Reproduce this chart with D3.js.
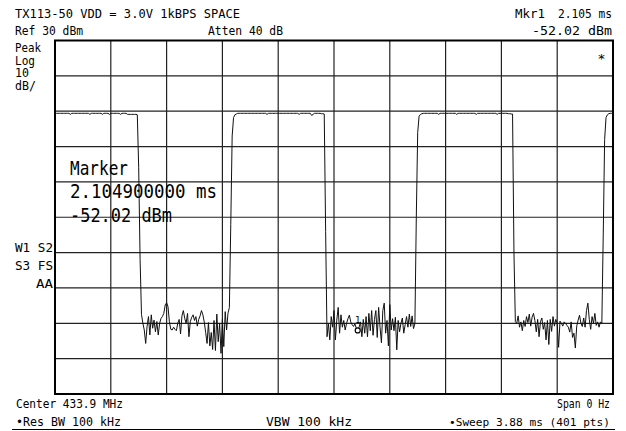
<!DOCTYPE html>
<html>
<head>
<meta charset="utf-8">
<script src="https://cdn.jsdelivr.net/npm/d3@7"></script>
<style>
  body { margin: 0; background: #fff; }
  svg { display: block; }
  text { font-family: "DejaVu Sans Mono", monospace; fill: #000; }
</style>
</head>
<body>
<div id="chart"></div>
<script>
// analyzer settings
const sweepMs = 3.88;
const refDbm = 30;
const dbPerDiv = 10;
const nDivs = 10;
const nPts = 401;
const markerIndex = 217;

// trace pieces, dBm (401 points in total)
const high1 = [
  9.4, 9.4, 9.4, 9.4, 9.4, 9.4, 9.4, 9.4, 9.4, 9.4,
  9.4, 9.1, 9.4, 9.4, 9.4, 9.4, 9.4, 9.4, 9.4, 9.4,
  9.4, 9.4, 9.4, 9.4, 9.4, 9.1, 9.4, 9.4, 9.4, 9.4,
  9.4, 9.4, 9.4, 9.4, 9.1, 9.4, 9.4, 9.4, 9.4, 9.1,
  9.4, 9.4, 9.4, 9.4, 9.4, 9.4, 9.4, 9.1, 9.4, 9.4,
  9.4, 9.4, 9.1, 9.1, 9.1, 9.1, 9.1, 9.1, 9.1, 9.0
];
const fall1 = [-6, -32];
const noise1 = [
  -47.5, -50, -51.9, -55.7, -50.9, -48.1, -53.3, -47.6, -51.4, -49.1,
  -52.4, -49.5, -53.3, -50, -48.6, -48.1, -47.2, -44.8, -44.2, -45.3,
  -49.5, -51.7, -51.9, -51.1, -51.7, -52.1, -50, -48.9, -53, -47.9,
  -46.4, -48.6, -50, -47.2, -53.8, -49.5, -48.3, -47.6, -49.2, -48.1,
  -50.8, -48.9, -47.9, -46.4, -47.6, -49.6, -52.6, -55.7, -49.8, -56.4,
  -52.6, -57.4, -49.2, -57.7, -47.4, -55.2, -50, -58.5, -48.9, -56.6,
  -46.7, -51.9, -47.2, -45.5
];
const rise1 = [-22, 3, 8.2];
const high2 = [
  9.0, 9.2, 9.4, 9.4, 9.4, 9.4, 9.4, 9.4, 9.4, 9.4,
  9.4, 9.4, 9.4, 9.4, 9.4, 9.4, 9.4, 9.4, 9.4, 9.4,
  9.4, 9.4, 9.4, 9.1, 9.4, 9.4, 9.4, 9.4, 9.4, 9.4,
  9.4, 9.4, 9.4, 9.4, 9.4, 9.4, 9.4, 9.4, 9.4, 9.4,
  9.4, 9.4, 9.4, 9.4, 9.4, 9.4, 9.1, 9.4, 9.4, 9.4,
  9.4, 9.4, 9.4, 9.4, 9.4, 8.8, 9.1, 9.4, 9.4, 9.4,
  9.4, 9.4, 9.3, 9.3, 9.2
];
const fall2 = [-24];
const noise2 = [
  -53.8, -50, -54.7, -48.1, -51.1, -46.4, -54.7, -49.1, -45.5, -52.8,
  -47.6, -51.1, -49.2, -51.9, -50, -48.7, -47.7, -49.6, -50.4, -50.9,
  -50.2, -51.4, -52.02, -51.1, -49.6, -53.8, -48.9, -52.8, -48.1, -53.8,
  -47.2, -52.1, -46.4, -53.4, -48.9, -46.4, -54, -45.5, -51.1, -55.5,
  -46.4, -44.3, -52.8, -49.2, -56.4, -44.7, -51.9, -48.7, -52.1, -48.3,
  -57.5, -49.2, -52.4, -50, -48.5, -52.8, -50.4, -48.1, -51.1, -47.4,
  -50.9, -47.9, -51.5, -50
];
const rise2 = [-20, 4];
const high3 = [
  8.6, 9.1, 9.3, 9.4, 9.4, 9.4, 9.4, 9.4, 9.4, 9.4,
  9.4, 9.4, 9.4, 9.4, 9.1, 9.4, 9.4, 9.4, 9.4, 9.4,
  9.4, 9.4, 9.4, 9.4, 9.4, 9.4, 9.4, 9.1, 9.4, 9.4,
  9.4, 9.4, 9.4, 9.4, 9.4, 9.4, 9.4, 9.4, 9.4, 9.4,
  9.4, 9.1, 9.4, 9.4, 9.4, 9.4, 9.4, 9.4, 9.4, 9.4,
  9.4, 9.4, 9.4, 9.4, 9.4, 9.4, 9.1, 9.4, 9.4, 9.4,
  9.4, 9.4, 9.4, 9.4, 9.3, 9.3, 9.2, 9.2
];
const fall3 = [-30];
const noise3 = [
  -49.5, -50, -47.9, -51.1, -49.6, -52.1, -49.2, -50.9, -48.1, -49.8,
  -47.4, -50.8, -48.3, -47.2, -49.2, -52.4, -48.9, -53.8, -49.6, -48.5,
  -51.7, -49.8, -54.7, -49.2, -56, -48.9, -52.3, -48.1, -50.8, -48.9,
  -50, -56.8, -49.4, -50, -50.8, -49.6, -50, -50.6, -51.1, -52.5,
  -49.6, -54, -52.8, -57, -50.8, -49.1, -47.7, -50, -50.9, -48.5,
  -51.1, -46.4, -44.3, -48.9, -51.7, -48.1, -50, -47.2, -50.6, -49.6,
  -51.1, -49.6, -50
];
const rise3 = [-25, 2, 8.2];
const high4 = [9.0, 9.3, 9.4, 9.4, 9.4];

const traceDbm = [].concat(high1, fall1, noise1, rise1, high2, fall2, noise2,
  rise2, high3, fall3, noise3, rise3, high4);

// screen annotations
const headerLeft = ["TX113-50 VDD = 3.0V 1kBPS SPACE", "Ref 30 dBm"];
const headerMid = "Atten 40 dB";
const mkrLabel = "Mkr1";
const mkrTime = "2.105 ms";
const mkrLevel = "-52.02 dBm";
const scaleLabels = ["Peak", "Log", "10", "dB/"];
const statusLabels = ["W1 S2", "S3 FS", "AA"];
const markerBox = ["Marker", "2.104900000 ms", "-52.02 dBm"];
const footer1 = ["Center 433.9 MHz", "Span 0 Hz"];
const footer2 = ["\u2022Res BW 100 kHz", "VBW 100 kHz", "\u2022Sweep 3.88 ms (401 pts)"];

const W = 626, H = 431;
const plot = { left: 55, right: 613, top: 40.5, bottom: 394 };

const svg = d3.select("#chart").append("svg")
  .attr("width", W)
  .attr("height", H);

const x = d3.scaleLinear().domain([0, sweepMs]).range([plot.left, plot.right]);
const y = d3.scaleLinear()
  .domain([refDbm - dbPerDiv * nDivs, refDbm])
  .range([plot.bottom, plot.top]);

// graticule
const xDivs = d3.range(0, nDivs + 1).map(k => k * sweepMs / nDivs);
const yDivs = y.ticks(nDivs);

svg.append("g").selectAll("line")
  .data(xDivs)
  .enter().append("line")
  .attr("x1", d => x(d)).attr("x2", d => x(d))
  .attr("y1", plot.top).attr("y2", plot.bottom)
  .attr("stroke", "#222")
  .attr("stroke-width", 1.2);

svg.append("g").selectAll("line")
  .data(yDivs)
  .enter().append("line")
  .attr("x1", plot.left).attr("x2", plot.right)
  .attr("y1", d => y(d)).attr("y2", d => y(d))
  .attr("stroke", "#222")
  .attr("stroke-width", 1.2);

svg.append("rect")
  .attr("x", plot.left).attr("y", plot.top)
  .attr("width", plot.right - plot.left)
  .attr("height", plot.bottom - plot.top)
  .attr("fill", "none")
  .attr("stroke", "#000")
  .attr("stroke-width", 2);

// trace
svg.append("clipPath").attr("id", "clip")
  .append("rect")
  .attr("x", plot.left).attr("y", plot.top)
  .attr("width", plot.right - plot.left)
  .attr("height", plot.bottom - plot.top);

const line = d3.line()
  .x((d, i) => x(i * sweepMs / (nPts - 1)))
  .y(d => y(d));

svg.append("path")
  .datum(traceDbm)
  .attr("clip-path", "url(#clip)")
  .attr("d", line)
  .attr("fill", "none")
  .attr("stroke", "#111")
  .attr("stroke-width", 1);

// marker 1
const mx = x(markerIndex * sweepMs / (nPts - 1));
const my = y(traceDbm[markerIndex]);
svg.append("circle")
  .attr("cx", mx).attr("cy", my).attr("r", 2.5)
  .attr("fill", "#fff")
  .attr("stroke", "#000")
  .attr("stroke-width", 1.2);
svg.append("text")
  .attr("x", mx).attr("y", my - 7)
  .attr("text-anchor", "middle")
  .style("font-size", "9px")
  .text("1");

// text helper
function label(str, px, py, len, anchor, size) {
  svg.append("text")
    .attr("x", px).attr("y", py)
    .attr("text-anchor", anchor || "start")
    .attr("textLength", len)
    .attr("lengthAdjust", "spacingAndGlyphs")
    .style("font-size", (size || 12.5) + "px")
    .text(str);
}

label(headerLeft[0], 15, 18, 225);
label(headerLeft[1], 15, 35, 68);
label(headerMid, 208, 35, 75);
label(mkrLabel, 515, 18, 30);
label(mkrTime, 612, 18, 54, "end");
label(mkrLevel, 612, 35, 80, "end");

// stacked scale labels, a bit smaller so the lines keep clear of each other
[52, 64.5, 77, 90].forEach((py, i) => {
  label(scaleLabels[i], 15, py, [26, 20, 14, 21][i], "start", 11.5);
});
label(statusLabels[0], 15, 252, 38);
label(statusLabels[1], 15, 270, 38);
label(statusLabels[2], 53, 288, 17, "end");

label("*", 601.5, 63, 8, "middle");

label(markerBox[0], 70, 175, 58, "start", 20);
label(markerBox[1], 70, 198, 147, "start", 20);
label(markerBox[2], 70, 221.5, 102, "start", 20);

label(footer1[0], 16, 408, 107);
label(footer1[1], 610, 408, 53, "end");
label(footer2[0], 16, 425.5, 105);
label(footer2[1], 266, 425.5, 86);
label(footer2[2], 610, 425.5, 161, "end", 11.2);

svg.append("line")
  .attr("x1", 12).attr("x2", 615)
  .attr("y1", 429.5).attr("y2", 429.5)
  .attr("stroke", "#000")
  .attr("stroke-width", 1);
</script>
</body>
</html>
